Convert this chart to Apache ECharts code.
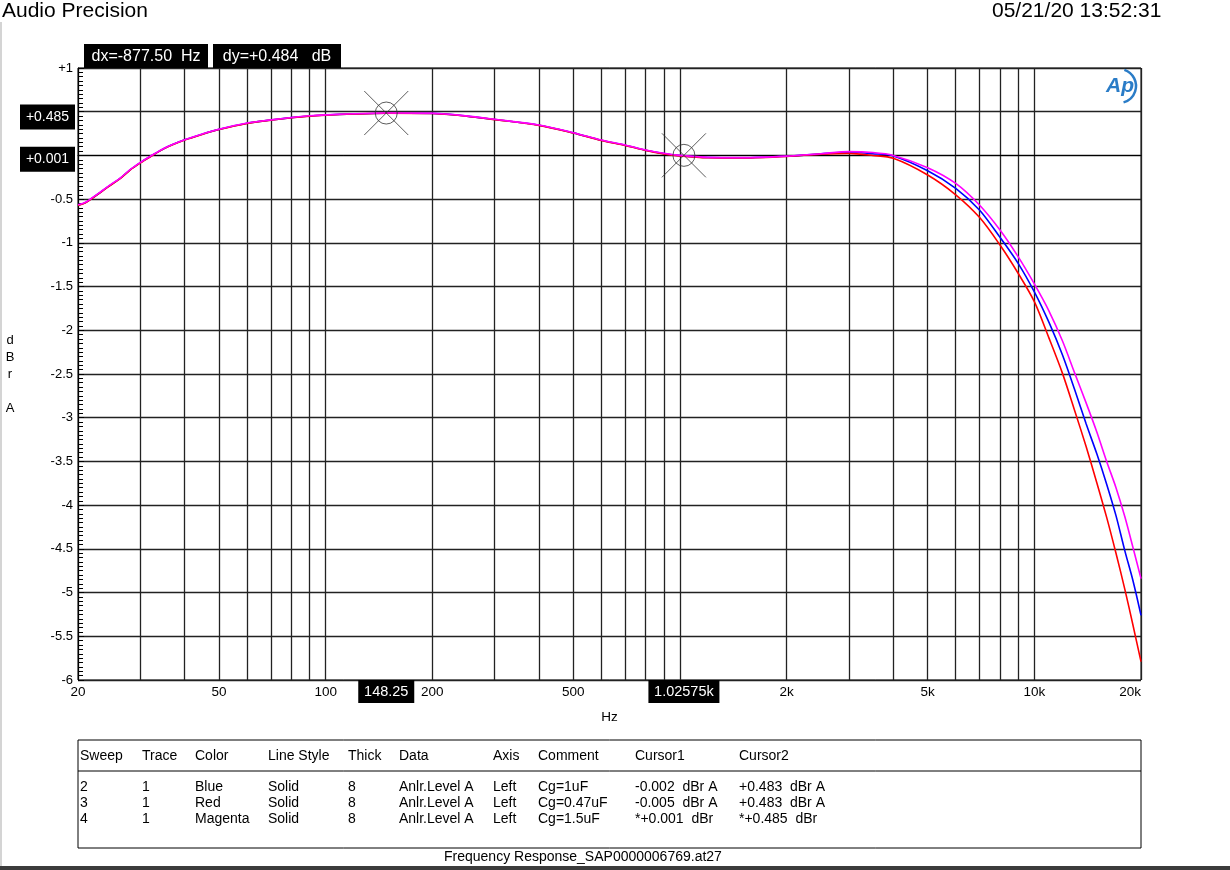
<!DOCTYPE html>
<html><head><meta charset="utf-8">
<script src="https://cdn.jsdelivr.net/npm/echarts@6/dist/echarts.min.js"></script>
<style>html,body{margin:0;padding:0;background:#fff}#c{width:1230px;height:870px}</style>
</head><body><div id="c"></div>
<script>
// ---- data ----
const freqs = [20, 21, 22, 23, 24, 25, 26.3, 28, 30, 32, 35, 40, 45, 50, 60, 70, 80, 90, 100, 120, 148, 200, 250, 300, 400, 500, 600, 700, 800, 900, 1000, 1200, 1500, 2000, 2500, 3000, 3500, 4000, 5000, 6000, 7000, 8000, 9000, 10000, 11000, 12000, 13000, 14000, 15000, 16000, 17000, 18000, 19000, 20000];
const magentaDb = [-0.565, -0.535, -0.48, -0.425, -0.37, -0.32, -0.26, -0.165, -0.08, -0.01, 0.083, 0.18, 0.247, 0.30, 0.37, 0.407, 0.434, 0.453, 0.464, 0.477, 0.485, 0.482, 0.452, 0.413, 0.348, 0.26, 0.176, 0.119, 0.062, 0.024, 0.001, -0.022, -0.025, -0.008, 0.02, 0.043, 0.033, 0.0, -0.14, -0.32, -0.567, -0.853, -1.158, -1.47, -1.78, -2.12, -2.49, -2.83, -3.16, -3.50, -3.80, -4.13, -4.49, -4.84];
const blueDb = [-0.57, -0.54, -0.485, -0.43, -0.375, -0.325, -0.263, -0.168, -0.083, -0.013, 0.08, 0.178, 0.245, 0.298, 0.368, 0.405, 0.432, 0.451, 0.462, 0.475, 0.483, 0.481, 0.45, 0.411, 0.346, 0.258, 0.174, 0.117, 0.06, 0.021, -0.002, -0.024, -0.027, -0.01, 0.018, 0.036, 0.02, -0.006, -0.175, -0.376, -0.624, -0.937, -1.234, -1.56, -1.91, -2.28, -2.68, -3.07, -3.41, -3.76, -4.12, -4.52, -4.87, -5.26];
const redDb = [-0.572, -0.542, -0.487, -0.432, -0.377, -0.327, -0.265, -0.17, -0.085, -0.015, 0.078, 0.176, 0.243, 0.296, 0.366, 0.404, 0.431, 0.45, 0.461, 0.474, 0.483, 0.48, 0.449, 0.41, 0.344, 0.256, 0.172, 0.115, 0.058, 0.018, -0.005, -0.026, -0.029, -0.012, 0.015, 0.024, 0.0, -0.033, -0.224, -0.45, -0.708, -1.025, -1.348, -1.673, -2.09, -2.49, -2.92, -3.33, -3.74, -4.14, -4.55, -4.96, -5.38, -5.79];
const gridFreqs = [20, 30, 40, 50, 60, 70, 80, 90, 100, 200, 300, 400, 500, 600, 700, 800, 900, 1000, 2000, 3000, 4000, 5000, 6000, 7000, 8000, 9000, 10000, 20000];
const xTickValues = [20, 50, 100, 200, 500, 1000, 2000, 5000, 10000, 20000];
const xTickLabels = ['20', '50', '100', '200', '500', '1k', '2k', '5k', '10k', '20k'];
const cursorFreqs = [148.25, 1025.75];
const cursorDb = [0.485, 0.001];
const cursorXLabels = ['148.25', '1.02575k'];
const cursorYLabels = ['+0.485', '+0.001'];
const dxText = 'dx=-877.50  Hz';
const dyText = 'dy=+0.484   dB';
const titleText = 'Audio Precision';
const dateText = '05/21/20 13:52:31';
const fileText = 'Frequency Response_SAP0000006769.at27';
const tableHeader = ['Sweep', 'Trace', 'Color', 'Line Style', 'Thick', 'Data', 'Axis', 'Comment', 'Cursor1', 'Cursor2'];
const tableRows = [
  ['2', '1', 'Blue', 'Solid', '8', 'Anlr.Level A', 'Left', 'Cg=1uF', '-0.002  dBr A', '+0.483  dBr A'],
  ['3', '1', 'Red', 'Solid', '8', 'Anlr.Level A', 'Left', 'Cg=0.47uF', '-0.005  dBr A', '+0.483  dBr A'],
  ['4', '1', 'Magenta', 'Solid', '8', 'Anlr.Level A', 'Left', 'Cg=1.5uF', '*+0.001  dBr', '*+0.485  dBr']
];

// ---- chart ----
const FONT = '"Liberation Sans", Arial, sans-serif';
const chart = echarts.init(document.getElementById('c'), null, {renderer: 'canvas'});
const pairs = arr => freqs.map((f, i) => [f, arr[i]]);
const lineSeries = (name, color, arr, z) => ({
  name, type: 'line', data: pairs(arr), showSymbol: false, smooth: 0.3, z,
  lineStyle: {color, width: 1.6}, itemStyle: {color}, animation: false
});
const crossPath = 'path://M0 0L44 44M44 0L0 44M33 22A11 11 0 1 1 11 22A11 11 0 1 1 33 22Z';

chart.setOption({
  animation: false,
  backgroundColor: '#fff',
  grid: {left: 78, right: 89, top: 68, bottom: 190, show: true, borderColor: '#000', borderWidth: 1, backgroundColor: '#fff'},
  xAxis: {
    type: 'log', logBase: 10, min: 20, max: 20000,
    name: 'Hz', nameLocation: 'middle', nameGap: 30,
    nameTextStyle: {color: '#000', fontSize: 13.5, fontFamily: FONT},
    axisLine: {show: true, lineStyle: {color: '#000', width: 1}},
    axisTick: {show: false, customValues: gridFreqs},
    axisLabel: {
      customValues: xTickValues, color: '#000', fontSize: 13.5, fontFamily: FONT, margin: 5,
      alignMaxLabel: 'right',
      formatter: v => { const i = xTickValues.findIndex(t => Math.abs(t - v) / t < 1e-6); return i >= 0 ? xTickLabels[i] : ''; }
    },
    splitLine: {show: true, lineStyle: {color: '#222', width: 1.3}},
    minorTick: {show: false}, minorSplitLine: {show: false}
  },
  yAxis: {
    type: 'value', min: -6, max: 1, interval: 0.5,
    axisLine: {show: true, lineStyle: {color: '#000', width: 1}},
    axisTick: {show: true, inside: true, length: 6, lineStyle: {color: '#000'}},
    minorTick: {show: true, splitNumber: 10, length: 5, lineStyle: {color: '#000'}},
    axisLabel: {color: '#000', fontSize: 13, fontFamily: FONT, margin: 5,
      formatter: v => v > 0 ? '+' + v : String(v)},
    splitLine: {show: true, lineStyle: {color: '#222', width: 1.3}}
  },
  series: [
    lineSeries('Blue', '#0000ff', blueDb, 3),
    lineSeries('Red', '#ff0000', redDb, 4),
    lineSeries('Magenta', '#ff00ff', magentaDb, 5),
    {
      type: 'scatter', data: cursorFreqs.map((f, i) => [f, cursorDb[i]]), z: 6,
      symbol: crossPath, symbolSize: 44, silent: true,
      itemStyle: {color: 'rgba(0,0,0,0)', borderColor: '#333', borderWidth: 1}
    }
  ]
});

// ---- annotations ----
const g = [];
const txt = (x, y, text, opt) => Object.assign({type: 'text', x, y, silent: true, z: 100,
  style: Object.assign({text, fill: '#000', font: '14px ' + FONT, textVerticalAlign: 'middle'}, opt || {})});
const rect = (x, y, w, h, fill, stroke) => ({type: 'rect', silent: true, z: 99,
  shape: {x, y, width: w, height: h}, style: {fill: fill || 'none', stroke: stroke || null, lineWidth: 1}});

g.push(rect(0, 22, 2, 848, '#d4d4d4'));
g.push(rect(0, 866, 1230, 4, '#3c3c3c'));
g.push(txt(2, 11, titleText, {font: '21px ' + FONT}));
g.push(txt(992, 11, dateText, {font: '21px ' + FONT}));

// dx/dy boxes
g.push(rect(84, 44, 124, 24, '#000'));
g.push(txt(146, 56.5, dxText, {fill: '#fff', textAlign: 'center', font: '16px ' + FONT}));
g.push(rect(213, 44, 128, 24, '#000'));
g.push(txt(277, 56.5, dyText, {fill: '#fff', textAlign: 'center', font: '16px ' + FONT}));

// cursor value boxes placed through the axes
const boxWX = [56, 71];
cursorFreqs.forEach((f, i) => {
  const p = chart.convertToPixel({gridIndex: 0}, [f, cursorDb[i]]);
  const yTop = p[1] - 8.5;
  g.push(rect(20, yTop, 55, 25, '#000'));
  g.push(txt(47.5, yTop + 12.5, cursorYLabels[i], {fill: '#fff', textAlign: 'center', font: '14px ' + FONT}));
  g.push(rect(p[0] - boxWX[i] / 2, 680, boxWX[i], 23, '#000'));
  g.push(txt(p[0], 692, cursorXLabels[i], {fill: '#fff', textAlign: 'center', font: '14.5px ' + FONT}));
});

// y axis name stacked
g.push({type: 'text', x: 10, y: 332, silent: true, z: 100,
  style: {text: 'd\nB\nr\n\nA', fill: '#000', font: '13px ' + FONT, textAlign: 'center', lineHeight: 17}});

// AP logo
g.push(txt(1106, 86, 'Ap', {fill: '#2a7cc7', font: 'italic bold 21px ' + FONT}));
g.push({type: 'arc', silent: true, z: 100, shape: {cx: 1119, cy: 86, r: 17, startAngle: -1.25, endAngle: 1.3},
  style: {stroke: '#2a7cc7', lineWidth: 2.5, fill: 'none'}});

// table
const tX = [80, 142, 195, 268, 348, 399, 493, 538, 635, 739];
g.push(rect(78, 740, 1063, 108, 'none', '#000'));
g.push({type: 'line', silent: true, z: 99, shape: {x1: 78, y1: 771, x2: 1141, y2: 771}, style: {stroke: '#000', lineWidth: 1}});
tableHeader.forEach((h, j) => g.push(txt(tX[j], 756, h)));
tableRows.forEach((row, r) => row.forEach((c, j) => g.push(txt(tX[j], 787 + r * 16, c))));
g.push(txt(444, 857, fileText));

chart.setOption({graphic: {elements: g}});
</script>
</body></html>
